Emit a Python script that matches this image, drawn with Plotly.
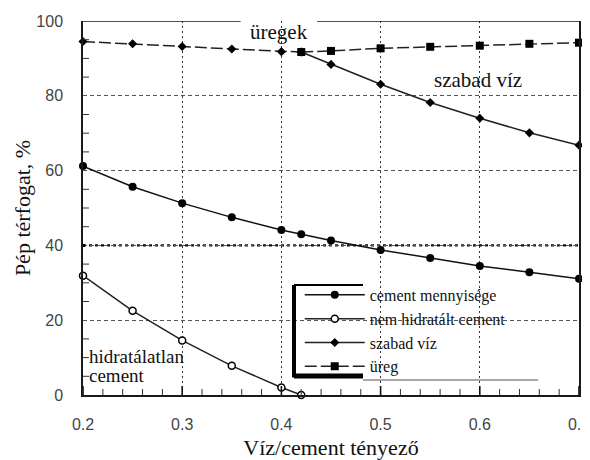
import plotly.graph_objects as go

# ---- data ----
x_cement = [0.2, 0.25, 0.3, 0.35, 0.4, 0.42, 0.45, 0.5, 0.55, 0.6, 0.65, 0.7]
y_cement = [61.2, 55.7, 51.3, 47.5, 44.1, 43.0, 41.3, 38.8, 36.6, 34.5, 32.8, 31.1]

x_unhyd = [0.2, 0.25, 0.3, 0.35, 0.4, 0.42]
y_unhyd = [31.9, 22.5, 14.6, 7.8, 2.0, 0.0]

x_water_top = [0.2, 0.25, 0.3, 0.35, 0.4, 0.42]
y_water_top = [94.5, 93.9, 93.2, 92.5, 91.8, 91.7]

x_water = [0.42, 0.45, 0.5, 0.55, 0.6, 0.65, 0.7]
y_water = [91.7, 88.4, 83.1, 78.2, 74.0, 70.1, 66.8]

x_void = [0.42, 0.45, 0.5, 0.55, 0.6, 0.65, 0.7]
y_void = [91.7, 92.0, 92.7, 93.1, 93.4, 93.9, 94.2]

x_range = [0.2, 0.7]
y_range = [0, 100]

# tick positions
x_major = [0.2, 0.3, 0.4, 0.5, 0.6, 0.7]
x_minor = [0.22, 0.24, 0.26, 0.28, 0.32, 0.34, 0.36, 0.38,
           0.42, 0.44, 0.46, 0.48, 0.52, 0.54, 0.56, 0.58,
           0.62, 0.64, 0.66, 0.68]
y_major = [0, 20, 40, 60, 80, 100]
y_minor = [5, 10, 15, 25, 30, 35, 45, 50, 55, 65, 70, 75, 85, 90, 95]
y_ref = 40

names = ["cement mennyisége", "nem hidratált cement", "szabad víz", "üreg"]

SERIF = "'Liberation Serif', 'Times New Roman', Times, serif"
SANS = "'Liberation Sans', Arial, Helvetica, sans-serif"
DARK = "#1a1a1a"

fig = go.Figure()

fig.add_trace(go.Scatter(
    x=x_cement, y=y_cement, name=names[0], mode="lines+markers",
    line=dict(color="#111111", width=1.5),
    marker=dict(symbol="circle", size=8, color="#000000"),
    cliponaxis=False))

fig.add_trace(go.Scatter(
    x=x_unhyd, y=y_unhyd, name=names[1], mode="lines+markers",
    line=dict(color="#222222", width=1.5),
    marker=dict(symbol="circle", size=7, color="white",
                line=dict(color="#000000", width=1.5)),
    cliponaxis=False))

fig.add_trace(go.Scatter(
    x=x_water, y=y_water, name=names[2], mode="lines+markers",
    line=dict(color="#222222", width=1.5),
    marker=dict(symbol="diamond", size=7, color="#000000"),
    cliponaxis=False))

fig.add_trace(go.Scatter(
    x=x_water_top, y=y_water_top, name=names[2], mode="lines+markers",
    showlegend=False,
    line=dict(color="#222222", width=1.5, dash="12px,4px"),
    marker=dict(symbol="diamond", size=7, color="#000000"),
    cliponaxis=False))

fig.add_trace(go.Scatter(
    x=x_void, y=y_void, name=names[3], mode="lines+markers",
    line=dict(color="#222222", width=1.5, dash="12px,4px"),
    marker=dict(symbol="square", size=8, color="#000000"),
    cliponaxis=False))

fig.update_layout(
    template="none",
    width=582, height=452,
    margin=dict(l=75, r=11, t=13, b=65, autoexpand=False),
    paper_bgcolor="white", plot_bgcolor="white",
    font=dict(family=SANS, color="#222222"),
    showlegend=True,
    legend=dict(x=0.437, y=0.313, xanchor="left", yanchor="top",
                bgcolor="rgba(0,0,0,0)", borderwidth=0,
                font=dict(family=SERIF, size=16, color="#111111"),
                tracegroupgap=0, itemwidth=60),
    xaxis=dict(range=x_range, tickmode="array", tickvals=x_major,
               ticktext=[str(v) for v in x_major],
               automargin=False, ticks="", ticklabelstandoff=14,
               ticklabeloverflow="allow",
               showline=True, linecolor=DARK, linewidth=1.5,
               showgrid=True, gridcolor="#333333", gridwidth=1.3,
               griddash="2px,3px", zeroline=False,
               tickfont=dict(family=SANS, size=16, color="#444444"),
               title=dict(text="Víz/cement tényező",
                          font=dict(family=SERIF, size=22, color="#111111"),
                          standoff=17)),
    yaxis=dict(range=y_range, tickmode="array", tickvals=y_major,
               automargin=False, ticks="", ticklabelstandoff=15,
               showline=True, linecolor=DARK, linewidth=1.5, mirror=True,
               showgrid=True, gridcolor="#555555", gridwidth=1,
               griddash="4px,3px", zeroline=False,
               tickfont=dict(family=SANS, size=16, color="#444444"),
               title=dict(text="Pép térfogat, %",
                          font=dict(family=SERIF, size=22, color="#111111"),
                          standoff=0)),
)

shapes = []
# tick marks as pixel-sized line shapes anchored at tick values
for xv in x_major:
    shapes.append(dict(type="line", xref="x", yref="y", ysizemode="pixel",
                       yanchor=y_range[0], x0=xv, x1=xv, y0=-10, y1=9,
                       line=dict(color="#111111", width=1.6)))
for xv in x_minor:
    shapes.append(dict(type="line", xref="x", yref="y", ysizemode="pixel",
                       yanchor=y_range[0], x0=xv, x1=xv, y0=0, y1=6,
                       line=dict(color="#333333", width=1)))
for yv in y_major:
    shapes.append(dict(type="line", xref="x", yref="y", xsizemode="pixel",
                       xanchor=x_range[0], x0=-11, x1=0, y0=yv, y1=yv,
                       line=dict(color="#111111", width=1.6)))
for yv in y_minor:
    shapes.append(dict(type="line", xref="x", yref="y", xsizemode="pixel",
                       xanchor=x_range[0], x0=0, x1=6, y0=yv, y1=yv,
                       line=dict(color="#333333", width=1)))
# bold tick at the reference level and the x-axis line stub left of the y axis
shapes.append(dict(type="line", xref="x", yref="y", xsizemode="pixel",
                   xanchor=x_range[0], x0=-11, x1=2, y0=y_ref, y1=y_ref,
                   line=dict(color="#000000", width=3)))
shapes.append(dict(type="line", xref="x", yref="y", xsizemode="pixel",
                   xanchor=x_range[0], x0=-20, x1=0, y0=y_range[0], y1=y_range[0],
                   line=dict(color=DARK, width=1.5)))

# top frame segments with gap for the label
shapes.append(dict(type="line", xref="x", yref="y", x0=0.2, x1=0.359,
                   y0=100, y1=100, line=dict(color=DARK, width=1.5)))
shapes.append(dict(type="line", xref="x", yref="y", x0=0.436, x1=0.7,
                   y0=100, y1=100, line=dict(color=DARK, width=1.5)))
# bold dotted reference line at 40
shapes.append(dict(type="line", xref="x", yref="y", x0=0.2, x1=0.7,
                   y0=y_ref, y1=y_ref, layer="below",
                   line=dict(color="#111111", width=2.2, dash="3px,3px")))
# white backdrop of legend area
shapes.append(dict(type="rect", xref="paper", yref="paper",
                   x0=(293 - 83) / 496, x1=(555 - 83) / 496,
                   y0=(395 - 380) / 374, y1=(395 - 285) / 374,
                   fillcolor="white", line=dict(width=0), layer="between"))
# legend frame
L = (294 - 83) / 496
R = (363 - 83) / 496
T = (395 - 285) / 374
B = (395 - 376) / 374
shapes.append(dict(type="line", xref="paper", yref="paper", x0=L, x1=L,
                   y0=B - 0.004, y1=T, line=dict(color="#000000", width=4)))
shapes.append(dict(type="line", xref="paper", yref="paper", x0=L, x1=R,
                   y0=B, y1=B, line=dict(color="#000000", width=5)))
shapes.append(dict(type="line", xref="paper", yref="paper", x0=L, x1=R,
                   y0=T, y1=T, line=dict(color="#000000", width=2)))
shapes.append(dict(type="line", xref="paper", yref="paper", x0=R,
                   x1=(538 - 83) / 496, y0=(395 - 380) / 374,
                   y1=(395 - 380) / 374, line=dict(color="#555555", width=1)))
fig.update_layout(shapes=shapes)

fig.add_annotation(text="üregek", x=0.3976, y=97.0, xref="x", yref="y",
                   showarrow=False, font=dict(family=SERIF, size=21, color="#111111"))
fig.add_annotation(text="szabad víz", x=0.598, y=84.2, xref="x", yref="y",
                   showarrow=False, font=dict(family=SERIF, size=21, color="#111111"))
fig.add_annotation(text="hidratálatlan", x=0.2045, y=10.2, xref="x", yref="y",
                   xanchor="left", yanchor="middle", showarrow=False,
                   font=dict(family=SERIF, size=19, color="#111111"))
fig.add_annotation(text="cement", x=0.2045, y=5.2, xref="x", yref="y",
                   xanchor="left", yanchor="middle", showarrow=False,
                   font=dict(family=SERIF, size=19, color="#111111"))

fig.write_html("out.html")
